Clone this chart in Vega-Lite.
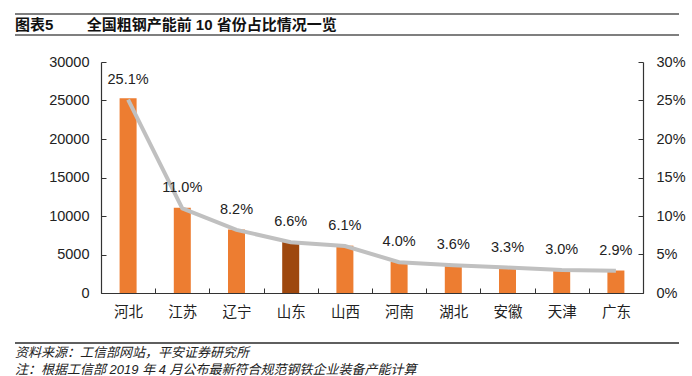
{
  "$schema": "https://vega.github.io/schema/vega-lite/v6.json",
  "padding": {"left": 14, "top": 13, "right": 0, "bottom": 0},
  "background": "white",
  "spacing": 18,
  "config": {
    "view": {"stroke": null},
    "font": "Liberation Sans, Noto Sans CJK SC",
    "axis": {"labelFont": "Liberation Sans, Noto Sans CJK SC", "labelColor": "#222222", "domainColor": "#333333", "tickColor": "#333333"}
  },
  "vconcat": [
    {
      "width": 664,
      "height": 21,
      "data": {"values": [{"label": "图表5\u00a0\u00a0\u00a0\u00a0\u00a0\u00a0\u00a0\u00a0全国粗钢产能前 10 省份占比情况一览"}]},
      "layer": [
        {
          "mark": {"type": "rule", "color": "#555555", "strokeWidth": 1.5},
          "encoding": {"y": {"datum": 0, "scale": {"domain": [0, 1]}, "axis": null}}
        },
        {
          "mark": {"type": "rule", "color": "#555555", "strokeWidth": 1.5},
          "encoding": {"y": {"datum": 1, "scale": {"domain": [0, 1]}, "axis": null}}
        },
        {
          "mark": {"type": "text", "align": "left", "baseline": "middle", "fontSize": 15, "fontWeight": "bold", "color": "#111111"},
          "encoding": {
            "x": {"datum": 0, "scale": {"domain": [0, 1]}, "axis": null},
            "y": {"datum": 0.5, "scale": {"domain": [0, 1]}, "axis": null},
            "text": {"field": "label"}
          }
        }
      ]
    },
    {
      "width": 664,
      "height": 231,
      "data": {"values": [
        {"province": "河北", "capacity": 25300, "share": 0.251, "label": "25.1%", "highlight": "no"},
        {"province": "江苏", "capacity": 11080, "share": 0.110, "label": "11.0%", "highlight": "no"},
        {"province": "辽宁", "capacity": 8260, "share": 0.082, "label": "8.2%", "highlight": "no"},
        {"province": "山东", "capacity": 6650, "share": 0.066, "label": "6.6%", "highlight": "yes"},
        {"province": "山西", "capacity": 6150, "share": 0.061, "label": "6.1%", "highlight": "no"},
        {"province": "河南", "capacity": 4030, "share": 0.040, "label": "4.0%", "highlight": "no"},
        {"province": "湖北", "capacity": 3630, "share": 0.036, "label": "3.6%", "highlight": "no"},
        {"province": "安徽", "capacity": 3330, "share": 0.033, "label": "3.3%", "highlight": "no"},
        {"province": "天津", "capacity": 3020, "share": 0.030, "label": "3.0%", "highlight": "no"},
        {"province": "广东", "capacity": 2920, "share": 0.029, "label": "2.9%", "highlight": "no"}
      ]},
      "encoding": {
        "x": {
          "field": "province", "type": "nominal", "sort": null, "title": null,
          "scale": {"paddingInner": 0, "paddingOuter": 0, "range": [86, 628]},
          "axis": {"labelAngle": 0, "labelFontSize": 14.5, "tickBand": "extent", "tickSize": -5, "labelPadding": 17, "domainWidth": 1.2}
        }
      },
      "layer": [
        {
          "mark": {"type": "bar", "size": 17},
          "encoding": {
            "y": {
              "field": "capacity", "type": "quantitative", "title": null,
              "scale": {"domain": [0, 30000]},
              "axis": {"orient": "left", "offset": -86, "values": [0, 5000, 10000, 15000, 20000, 25000, 30000], "format": "d", "labelFontSize": 14.5, "tickSize": -5, "labelPadding": 17, "grid": false, "domainWidth": 1.2, "labelOverlap": false}
            },
            "color": {
              "field": "highlight", "type": "nominal", "legend": null,
              "scale": {"domain": ["no", "yes"], "range": ["#ED7D31", "#9E480E"]}
            }
          }
        },
        {
          "encoding": {
            "y": {
              "field": "share", "type": "quantitative", "title": null,
              "scale": {"domain": [0, 0.3]},
              "axis": {"orient": "right", "offset": -36, "values": [0, 0.05, 0.1, 0.15, 0.2, 0.25, 0.3], "format": ".0%", "labelFontSize": 14.5, "tickSize": -5, "labelPadding": 18, "grid": false, "domainWidth": 1.2, "labelOverlap": false}
            }
          },
          "layer": [
            {
              "mark": {"type": "line", "color": "#C0C0C0", "strokeWidth": 4}
            },
            {
              "mark": {"type": "text", "fontSize": 14.5, "color": "#222222", "baseline": "middle", "dy": -20},
              "encoding": {"text": {"field": "label"}}
            }
          ]
        }
      ],
      "resolve": {"scale": {"y": "independent", "color": "independent"}}
    },
    {
      "width": 664,
      "height": 40,
      "data": {"values": [
        {"text": "资料来源：工信部网站，平安证券研究所", "row": 16},
        {"text": "注：根据工信部 2019 年 4 月公布最新符合规范钢铁企业装备产能计算", "row": 33}
      ]},
      "layer": [
        {
          "mark": {"type": "rule", "color": "#555555", "strokeWidth": 1.5},
          "encoding": {"y": {"datum": 6, "scale": {"domain": [0, 40], "reverse": true}, "axis": null}}
        },
        {
          "mark": {"type": "text", "align": "left", "baseline": "middle", "fontSize": 13, "fontStyle": "italic", "color": "#222222"},
          "encoding": {
            "x": {"datum": 0, "scale": {"domain": [0, 1]}, "axis": null},
            "y": {"field": "row", "type": "quantitative", "scale": {"domain": [0, 40], "reverse": true}, "axis": null},
            "text": {"field": "text"}
          }
        }
      ]
    }
  ]
}
